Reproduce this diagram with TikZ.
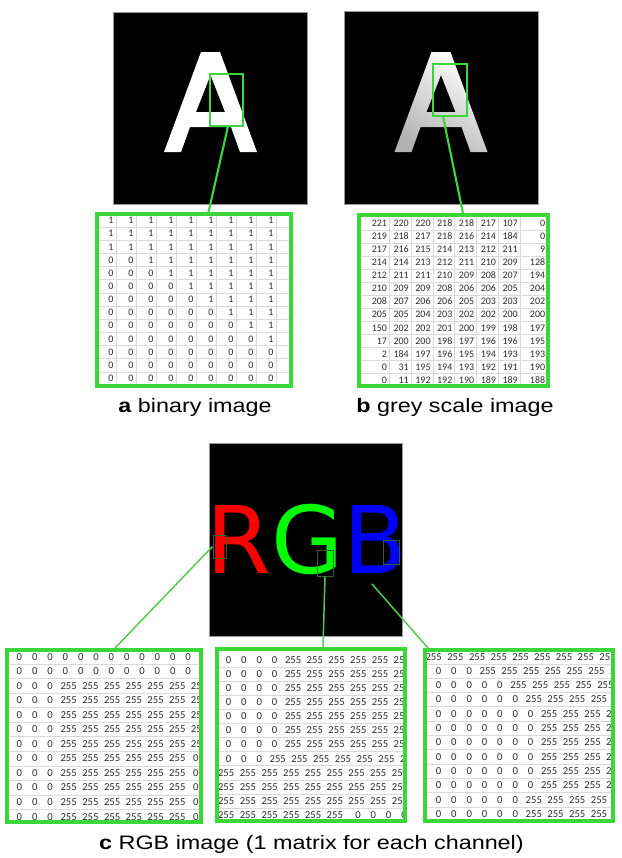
\documentclass[tikz,border=0pt]{standalone}
\usepackage{fontspec}
\setmainfont{Liberation Sans}
\newfontfamily\numfont{Carlito}
\newfontfamily\djv{DejaVu Sans}
\ExplSyntaxOn
\cs_new:Npn \rep #1#2 { \prg_replicate:nn {#1} {#2} }
\ExplSyntaxOff
\definecolor{brg}{RGB}{58,214,58}
\definecolor{lng}{RGB}{80,205,80}
\definecolor{drg}{RGB}{40,100,40}
\definecolor{numc}{RGB}{45,45,45}
\definecolor{gridc}{RGB}{218,218,218}
\newcommand\bz{\makebox[15pt][c]{0}}
\newcommand\bo{\makebox[15pt][c]{1}}
\newcommand\rz{\makebox[11.5pt][c]{0}}
\newcommand\rf{\makebox[16.3pt][c]{255}}
\newcommand\gc[1]{\makebox[16.35pt][r]{#1}}
\newcommand\gl[1]{\makebox[20.55pt][r]{#1}}
\newcommand\grow[8]{\gc{#1}\gc{#2}\gc{#3}\gc{#4}\gc{#5}\gc{#6}\gc{#7}\gl{#8}}
\begin{document}
\begin{tikzpicture}[x=0.75pt,y=-0.75pt,
  img/.style={draw=black!40, line width=0.5pt, fill=black, inner sep=0pt},
  mbox/.style={draw=brg, line width=3pt, inner sep=0pt},
  zoomA/.style={draw=brg, line width=0.8pt, inner sep=0pt},
  zoomC/.style={draw=drg, line width=0.75pt, inner sep=0pt},
  link/.style={brg, line width=1.6pt},
  linkc/.style={lng, line width=1.1pt},
  brow/.style={anchor=west, inner sep=0pt, text height=4.7pt, text depth=0pt, text=numc, font=\numfont\fontsize{7.5}{9}\selectfont},
  rrow/.style={anchor=west, inner sep=0pt, text height=5pt, text depth=0pt, text=numc, font=\numfont\fontsize{8}{9}\selectfont},
  captxt/.style={anchor=base, inner sep=0pt, font=\fontsize{14.6}{17}\selectfont},
  gridl/.style={draw=gridc, line width=0.4pt}]

\fill[white] (0,0) rectangle (622,858);
\useasboundingbox (0,0) rectangle (622,858);

% ---------- top images ----------
\node[img, minimum width=145.5pt, minimum height=144pt] (imA) at (210,108) {};
\fill[white, even odd rule] (164,152) -- (201,52) -- (220,52) -- (257,152) -- (240,152) -- (231,127) -- (190,127) -- (181,152) -- cycle (210.5,75) -- (225,112) -- (196,112) -- cycle;
\node[img, minimum width=145.5pt, minimum height=144.75pt] (imB) at (441,107.5) {};
\shade[even odd rule, top color=white, bottom color=black!30, shading angle=-30] (394.5,152) -- (431.5,52) -- (450.5,52) -- (487.5,152) -- (470.5,152) -- (461.5,127) -- (420.5,127) -- (411.5,152) -- cycle (441,75) -- (455.5,112) -- (426.5,112) -- cycle;
\node[zoomA, minimum width=24.75pt, minimum height=39pt] (zA) at (226.5,100) {};
\node[zoomA, minimum width=25.5pt, minimum height=39pt] (zB) at (450,90) {};

% ---------- binary matrix ----------
\foreach \k in {0,...,8} \draw[gridl] ({116+20*\k},214) -- ({116+20*\k},386);
\foreach \k in {1,...,12} \draw[gridl] (99,{214+13.15*\k}) -- (289,{214+13.15*\k});
\node[brow] (b1) at (100.7,220.58) {\rep{9}{\bo}};
\node[brow] (b2) at (100.7,233.73) {\rep{9}{\bo}};
\node[brow] (b3) at (100.7,246.88) {\rep{9}{\bo}};
\node[brow] (b4) at (100.7,260.03) {\rep{2}{\bz}\rep{7}{\bo}};
\node[brow] (b5) at (100.7,273.18) {\rep{3}{\bz}\rep{6}{\bo}};
\node[brow] (b6) at (100.7,286.33) {\rep{4}{\bz}\rep{5}{\bo}};
\node[brow] (b7) at (100.7,299.48) {\rep{5}{\bz}\rep{4}{\bo}};
\node[brow] (b8) at (100.7,312.63) {\rep{6}{\bz}\rep{3}{\bo}};
\node[brow] (b9) at (100.7,325.78) {\rep{7}{\bz}\rep{2}{\bo}};
\node[brow] (b10) at (100.7,338.93) {\rep{8}{\bz}\rep{1}{\bo}};
\node[brow] (b11) at (100.7,352.08) {\rep{9}{\bz}};
\node[brow] (b12) at (100.7,365.23) {\rep{9}{\bz}};
\node[brow] (b13) at (100.7,378.38) {\rep{9}{\bz}};
\node[mbox, minimum width=145.5pt, minimum height=129pt] (mA) at (194,300) {};

% ---------- grey matrix ----------
\foreach \xx in {389.2,411,432.8,454.6,476.4,498.2,520} \draw[gridl] (\xx,217) -- (\xx,386);
\foreach \k in {1,...,12} \draw[gridl] (361,{216.7+13.08*\k}) -- (546,{216.7+13.08*\k});
\node[brow] (g1) at (364.9,223.24) {\grow{221}{220}{220}{218}{218}{217}{107}{0}};
\node[brow] (g2) at (364.9,236.32) {\grow{219}{218}{217}{218}{216}{214}{184}{0}};
\node[brow] (g3) at (364.9,249.40) {\grow{217}{216}{215}{214}{213}{212}{211}{9}};
\node[brow] (g4) at (364.9,262.48) {\grow{214}{214}{213}{212}{211}{210}{209}{128}};
\node[brow] (g5) at (364.9,275.56) {\grow{212}{211}{211}{210}{209}{208}{207}{194}};
\node[brow] (g6) at (364.9,288.64) {\grow{210}{209}{209}{208}{206}{206}{205}{204}};
\node[brow] (g7) at (364.9,301.72) {\grow{208}{207}{206}{206}{205}{203}{203}{202}};
\node[brow] (g8) at (364.9,314.80) {\grow{205}{205}{204}{203}{202}{202}{200}{200}};
\node[brow] (g9) at (364.9,327.88) {\grow{150}{202}{202}{201}{200}{199}{198}{197}};
\node[brow] (g10) at (364.9,340.96) {\grow{17}{200}{200}{198}{197}{196}{196}{195}};
\node[brow] (g11) at (364.9,354.04) {\grow{2}{184}{197}{196}{195}{194}{193}{193}};
\node[brow] (g12) at (364.9,367.12) {\grow{0}{31}{195}{194}{193}{192}{191}{190}};
\node[brow] (g13) at (364.9,380.20) {\grow{0}{11}{192}{192}{190}{189}{189}{188}};
\node[mbox, minimum width=141.75pt, minimum height=128.25pt] (mB) at (453.5,300.5) {};

\draw[link] ([xshift=1.1pt]zA.south) -- ([xshift=10.9pt]mA.north);
\draw[link] ([xshift=-5.25pt]zB.south) -- ([xshift=7.1pt]mB.north);

\node[captxt] (ca) at (195,412) {\scalebox{1.2}[1]{\textbf{a} binary image}};
\node[captxt] (cb) at (455,412) {\scalebox{1.2}[1]{\textbf{b} grey scale image}};

% ---------- RGB image ----------
\node[img, minimum width=144.75pt, minimum height=144.75pt] (imC) at (305.5,539.5) {};
\node[anchor=base, inner sep=0pt, font=\djv\fontsize{70}{70}\selectfont] (rgb) at (307,573) {\textcolor{red}{R}\textcolor{green}{G}\textcolor{blue}{B}};
\node[zoomC, minimum width=9.75pt, minimum height=17.25pt] (zR) at (219.5,546.5) {};
\node[zoomC, minimum width=12pt, minimum height=19.5pt] (zG) at (325,563) {};
\node[zoomC, minimum width=12pt, minimum height=18pt] (zBl) at (391,552) {};
\coordinate (bS) at (372,584);

% ---------- R matrix ----------
\begin{scope}
\clip (9,652) rectangle (199,820);
\foreach \k in {1,...,11} \draw[gridl] (9,{649.425+14.55*\k}) -- (199,{649.425+14.55*\k});
\node[rrow] (r1) at (11.5,656.70) {\rep{12}{\rz}};
\node[rrow] (r2) at (11.5,671.25) {\rep{12}{\rz}};
\node[rrow] (r3) at (11.5,685.80) {\rep{3}{\rz}\rep{7}{\rf}};
\node[rrow] (r4) at (11.5,700.35) {\rep{3}{\rz}\rep{7}{\rf}};
\node[rrow] (r5) at (11.5,714.90) {\rep{3}{\rz}\rep{7}{\rf}};
\node[rrow] (r6) at (11.5,729.45) {\rep{3}{\rz}\rep{7}{\rf}};
\node[rrow] (r7) at (11.5,744.00) {\rep{3}{\rz}\rep{7}{\rf}};
\node[rrow] (r8) at (11.5,758.55) {\rep{3}{\rz}\rep{6}{\rf}\rz};
\node[rrow] (r9) at (11.5,773.10) {\rep{3}{\rz}\rep{6}{\rf}\rz};
\node[rrow] (r10) at (11.5,787.65) {\rep{3}{\rz}\rep{6}{\rf}\rz};
\node[rrow] (r11) at (11.5,802.20) {\rep{3}{\rz}\rep{6}{\rf}\rz};
\node[rrow] (r12) at (11.5,816.75) {\rep{3}{\rz}\rep{6}{\rf}\rz};
\end{scope}
\node[mbox, minimum width=145.5pt, minimum height=129pt] (mR) at (104,736) {};

% ---------- G matrix ----------
\begin{scope}
\clip (219,651) rectangle (403,819);
\foreach \k in {1,...,11} \draw[gridl] (219,{652.95+14.1*\k}) -- (403,{652.95+14.1*\k});
\node[rrow] (gg1) at (220.65,660.0) {\rep{4}{\rz}\rep{6}{\rf}};
\node[rrow] (gg2) at (220.65,674.1) {\rep{4}{\rz}\rep{6}{\rf}};
\node[rrow] (gg3) at (220.65,688.2) {\rep{4}{\rz}\rep{6}{\rf}};
\node[rrow] (gg4) at (220.65,702.3) {\rep{4}{\rz}\rep{6}{\rf}};
\node[rrow] (gg5) at (220.65,716.4) {\rep{4}{\rz}\rep{6}{\rf}};
\node[rrow] (gg6) at (220.65,730.5) {\rep{4}{\rz}\rep{6}{\rf}};
\node[rrow] (gg7) at (220.65,744.6) {\rep{4}{\rz}\rep{6}{\rf}};
\node[rrow] (gg8) at (220.65,758.7) {\rep{3}{\rz}\rep{7}{\rf}};
\node[rrow] (gg9) at (215,772.8) {\rep{9}{\rf}};
\node[rrow] (gg10) at (215,786.9) {\rep{9}{\rf}};
\node[rrow] (gg11) at (215,801.0) {\rep{9}{\rf}};
\node[rrow] (gg12) at (215,815.1) {\rep{6}{\rf}\hspace{3.5pt}\rep{4}{\rz}};
\end{scope}
\node[mbox, minimum width=141pt, minimum height=129pt] (mG) at (311,735) {};

% ---------- B matrix ----------
\begin{scope}
\clip (427,652) rectangle (611,819);
\foreach \k in {1,...,11} \draw[gridl] (427,{649.55+14.3*\k}) -- (611,{649.55+14.3*\k});
\node[rrow] (bb1) at (422.5,656.7) {\rep{10}{\rf}};
\node[rrow] (bb2) at (430.65,671.0) {\rep{3}{\rz}\rep{7}{\rf}};
\node[rrow] (bb3) at (430.65,685.3) {\rep{5}{\rz}\rep{6}{\rf}};
\node[rrow] (bb4) at (430.65,699.6) {\rep{6}{\rz}\rep{4}{\rf}\rz};
\node[rrow] (bb5) at (430.65,713.9) {\rep{7}{\rz}\rep{5}{\rf}};
\node[rrow] (bb6) at (430.65,728.2) {\rep{7}{\rz}\rep{5}{\rf}};
\node[rrow] (bb7) at (430.65,742.5) {\rep{7}{\rz}\rep{5}{\rf}};
\node[rrow] (bb8) at (430.65,756.8) {\rep{7}{\rz}\rep{5}{\rf}};
\node[rrow] (bb9) at (430.65,771.1) {\rep{7}{\rz}\rep{5}{\rf}};
\node[rrow] (bb10) at (430.65,785.4) {\rep{7}{\rz}\rep{5}{\rf}};
\node[rrow] (bb11) at (430.65,799.7) {\rep{6}{\rz}\rep{5}{\rf}};
\node[rrow] (bb12) at (430.65,814.0) {\rep{6}{\rz}\rep{5}{\rf}};
\end{scope}
\node[mbox, minimum width=141pt, minimum height=128.25pt] (mBl) at (519,735.5) {};

\draw[linkc] (zR.west) -- ([xshift=8.25pt]mR.north);
\draw[linkc] (zG.south) -- ([xshift=9pt]mG.north);
\draw[linkc] (bS) -- ([xshift=3.75pt]mBl.north west);

\node[captxt] (cc) at (311.5,849) {\scalebox{1.2}[1]{\textbf{c} RGB image (1 matrix for each channel)}};
\end{tikzpicture}
\end{document}
